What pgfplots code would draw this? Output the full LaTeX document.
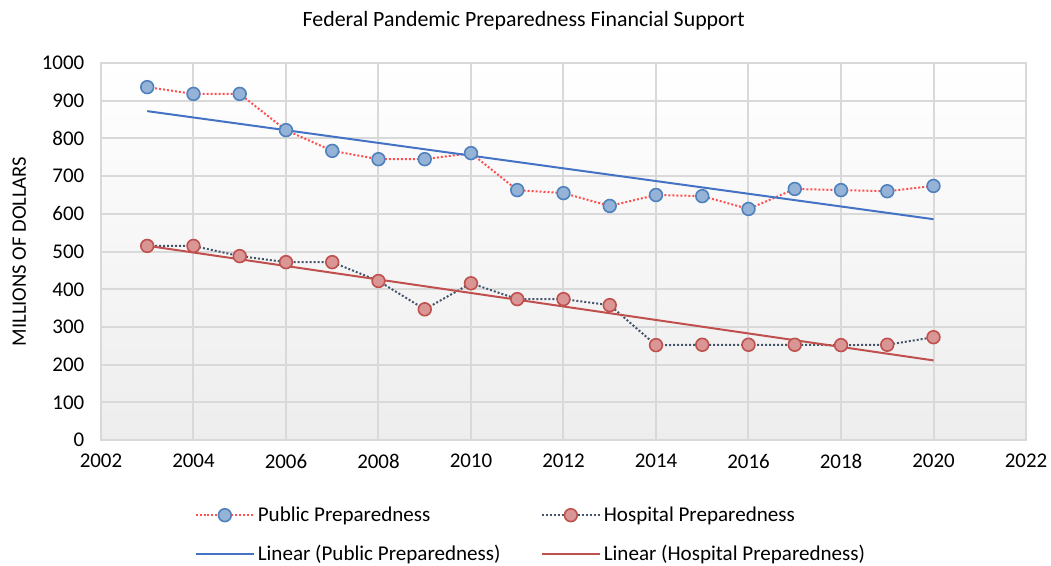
\documentclass[border=0pt]{standalone}
\usepackage{pgfplots}
\usepackage{pgfplotstable}
\pgfplotsset{compat=1.18}
\usepackage{fontspec}
\setmainfont{Carlito}
\definecolor{publine}{HTML}{FF5050}
\definecolor{pubfill}{HTML}{95B3D7}
\definecolor{pubdraw}{HTML}{4F81BD}
\definecolor{hosline}{HTML}{44546A}
\definecolor{hosfill}{HTML}{D99694}
\definecolor{hosdraw}{HTML}{C0504D}
\definecolor{trblue}{HTML}{4472C4}
\definecolor{trred}{HTML}{C0504D}
\definecolor{gridc}{HTML}{D9D9D9}
\pgfplotstableread{
year t pub hos
2003 3 936 515
2004 4 918 515
2005 5 918 488
2006 6 822 472
2007 7 767 472
2008 8 745 422
2009 9 745 347
2010 10 761 416
2011 11 663 374
2012 12 655 374
2013 13 621 358
2014 14 650 252
2015 15 647 253
2016 16 613 253
2017 17 666 253
2018 18 663 252
2019 19 660 253
2020 20 674 273
}\datatable
\begin{document}
\begin{tikzpicture}[x=1pt,y=1pt]
\begin{axis}[
  scale only axis,
  width=694bp, height=283bp,
  xmin=2002, xmax=2022, ymin=0, ymax=1000,
  xtick={2002,2004,...,2022},
  ytick={0,100,...,1000},
  major tick length=0pt,
  grid=major,
  major grid style={gridc, line width=1.5bp},
  axis line style={gridc, line width=1.5bp},
  axis background/.style={top color=white, bottom color=black!7},
  /pgf/number format/assume math mode=true,
  /pgf/number format/set thousands separator={},
  tick label style={font=\fontsize{15.7bp}{17bp}\selectfont, text=black},
  yticklabel style={xshift=-9bp},
  xticklabel style={yshift=-7bp},
  ylabel={MILLIONS OF DOLLARS},
  ylabel style={font=\fontsize{15.4bp}{17bp}\selectfont, yshift=5bp},
  title={Federal Pandemic Preparedness Financial Support},
  title style={font=\fontsize{16.4bp}{18bp}\selectfont, at={(rel axis cs:0.457,1)}, anchor=south, yshift=15bp},
  legend columns=2,
  legend cell align=left,
  legend style={draw=none, fill=none, at={(0.465,-0.162)}, anchor=north,
    font=\fontsize{15.8bp}{17bp}\selectfont,
    /tikz/every even column/.append style={column sep=28bp},
    row sep=12bp},
  legend image code/.code={
    \draw[mark repeat=2,mark phase=2,#1] plot coordinates {(0bp,0bp) (22bp,0bp) (44bp,0bp)};
  },
]
\addplot[publine, line width=1.5bp, dash pattern=on 1.5bp off 1.5bp,
  mark=*, mark size=4.8bp, mark options={solid, fill=pubfill, draw=pubdraw, line width=1.2bp}]
  table[x=year, y=pub] {\datatable};
\addlegendentry{Public Preparedness}
\addplot[hosline, line width=1.5bp, dash pattern=on 1.5bp off 1.5bp,
  mark=*, mark size=4.8bp, mark options={solid, fill=hosfill, draw=hosdraw, line width=1.2bp}]
  table[x=year, y=hos] {\datatable};
\addlegendentry{Hospital Preparedness}
\addplot[trblue, line width=1.5bp, no marks]
  table[x=year, y={create col/linear regression={x=t, y=pub}}] {\datatable};
\addlegendentry{Linear (Public Preparedness)}
\addplot[trred, line width=1.5bp, no marks]
  table[x=year, y={create col/linear regression={x=t, y=hos}}] {\datatable};
\addlegendentry{Linear (Hospital Preparedness)}
\end{axis}
\pgfresetboundingbox
\path ([shift={(-75.75bp,-93.75bp)}]current axis.south west) rectangle ([shift={(18.75bp,47.25bp)}]current axis.north east);
\end{tikzpicture}
\end{document}
